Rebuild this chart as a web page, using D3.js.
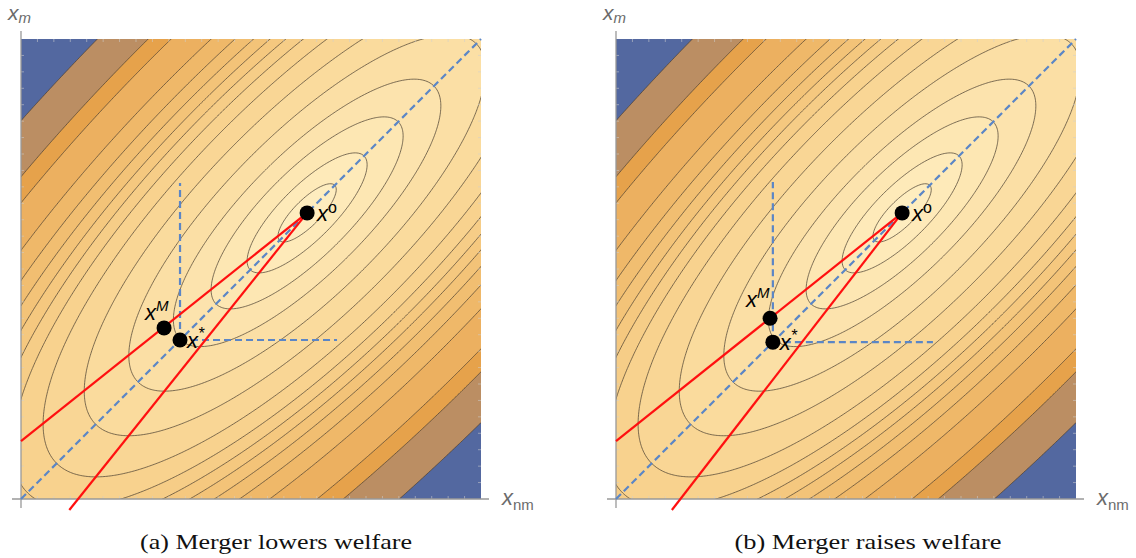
<!DOCTYPE html>
<html><head><meta charset="utf-8">
<script src="https://cdn.jsdelivr.net/npm/d3@7"></script>
<style>body{margin:0;background:#fff} svg{display:block}</style>
</head><body><svg id="chart" width="1136" height="558"></svg>
<script>
// ---------- data ----------
const panelIds = ["a", "b"];
const captions = ["(a) Merger lowers welfare", "(b) Merger raises welfare"];
// contour levels, as elliptical "distance" from the welfare optimum (inner -> outer)
const contourLevels = [0.085, 0.175, 0.28, 0.39, 0.52, 0.65, 0.77, 0.86, 0.93, 0.995, 1.065, 1.145, 1.25, 1.43, 1.535, 1.77];
// band colours, lowest welfare (outermost) -> highest welfare (innermost)
const bandColors = ["#5368A0", "#BB8E63", "#E6A24B", "#ECB060", "#EFB869", "#F1BE71", "#F3C378", "#F5C87F",
  "#F6CD87", "#F8D28E", "#F9D695", "#FADB9D", "#FBDFA5", "#FCE3AD", "#FDE7B3", "#FEEAB9", "#FEEDBF"];
const welfareCenter = [0.622, 0.622];
const axisRatio = 3;             // major / minor axis of the welfare ellipses
const optimumPts = [[0.622, 0.622], [0.622, 0.622]];   // x°
const mergerPts = [[0.311, 0.372], [0.335, 0.393]];    // x^M
const starPts = [[0.3457, 0.3457], [0.341, 0.341]];    // x*
const guideEnds = [0.687, 0.689];                      // dashed guides from x*
const redUpperEnds = [[0, 0.126], [0, 0.126]];
const redLowerEnds = [[0.105, -0.024], [0.1215, -0.024]];
const frameTicks = d3.range(1, 28).map(k => k / 28);

// ---------- layout ----------
const panelLeft = [21, 616], panelTop = 39, size = 460;
const svg = d3.select("#chart");
const defs = svg.append("defs");

function welfare(u, v) {
  const du = u - welfareCenter[0], dv = v - welfareCenter[1];
  const s = (du + dv) / Math.SQRT2, t = (du - dv) / Math.SQRT2;
  return -Math.sqrt(s * s + axisRatio * axisRatio * t * t);
}

const g0 = -0.03, g1 = 1.03, n = 320, step = (g1 - g0) / n;
const values = new Array(n * n);
for (let j = 0; j < n; j++) for (let i = 0; i < n; i++)
  values[i + j * n] = welfare(g0 + (i + 0.5) * step, g0 + (j + 0.5) * step);
const thresholds = contourLevels.map(r => -r).sort((a, b) => a - b);
const contours = d3.contours().size([n, n]).thresholds(thresholds)(values);

panelIds.forEach((id, p) => {
  const x = d3.scaleLinear().domain([0, 1]).range([panelLeft[p], panelLeft[p] + size]);
  const y = d3.scaleLinear().domain([0, 1]).range([panelTop + size, panelTop]);
  const proj = d3.geoTransform({ point: function (gx, gy) {
    this.stream.point(x(g0 + gx * step), y(g0 + gy * step));
  }});
  const path = d3.geoPath(proj);
  const g = svg.append("g");
  defs.append("clipPath").attr("id", "clip" + id).append("rect")
    .attr("x", x(0)).attr("y", y(1)).attr("width", size).attr("height", size);
  const plot = g.append("g").attr("clip-path", `url(#clip${id})`);
  plot.append("rect").attr("x", x(0)).attr("y", y(1)).attr("width", size).attr("height", size).attr("fill", bandColors[0]);
  plot.selectAll("path.band").data(contours).join("path").attr("class", "band")
    .attr("d", path).attr("fill", (d, i) => bandColors[i + 1]);
  plot.selectAll("path.iso").data(contours).join("path").attr("class", "iso")
    .attr("d", path).attr("fill", "none").attr("stroke", "#4a3f30").attr("stroke-opacity", 0.72).attr("stroke-width", 1);

  // faint frame ticks
  const tk = g.append("g").attr("stroke", "#cfcfcf").attr("stroke-opacity", 0.55).attr("stroke-width", 1);
  frameTicks.forEach(v => {
    tk.append("line").attr("x1", x(v)).attr("x2", x(v)).attr("y1", y(1)).attr("y2", y(1) + 3);
    tk.append("line").attr("x1", x(v)).attr("x2", x(v)).attr("y1", y(0)).attr("y2", y(0) - 3);
    tk.append("line").attr("y1", y(v)).attr("y2", y(v)).attr("x1", x(0)).attr("x2", x(0) + 3);
    tk.append("line").attr("y1", y(v)).attr("y2", y(v)).attr("x1", x(1)).attr("x2", x(1) - 3);
  });

  // axes
  g.append("line").attr("x1", x(0) - 9).attr("x2", x(1) + 8).attr("y1", y(0)).attr("y2", y(0))
    .attr("stroke", "#999").attr("stroke-width", 1.3);
  g.append("line").attr("x1", x(0)).attr("x2", x(0)).attr("y1", y(1) - 8).attr("y2", y(0) + 9)
    .attr("stroke", "#999").attr("stroke-width", 1.3);

  // dashed guides
  const dash = g.append("g").attr("fill", "none").attr("stroke", "#5B86C6").attr("stroke-width", 2.2).attr("stroke-dasharray", "7,4");
  dash.append("line").attr("x1", x(0)).attr("y1", y(0)).attr("x2", x(1)).attr("y2", y(1));
  const sp = starPts[p];
  dash.append("line").attr("x1", x(sp[0])).attr("y1", y(sp[1])).attr("x2", x(sp[0])).attr("y2", y(guideEnds[p]));
  dash.append("line").attr("x1", x(sp[0])).attr("y1", y(sp[1])).attr("x2", x(guideEnds[p])).attr("y2", y(sp[1]));

  // red lines
  const op = optimumPts[p];
  const red = g.append("g").attr("stroke", "#FF1010").attr("stroke-width", 2.2);
  [redUpperEnds[p], redLowerEnds[p]].forEach(e => {
    red.append("line").attr("x1", x(op[0])).attr("y1", y(op[1])).attr("x2", x(e[0])).attr("y2", y(e[1]));
  });

  // points
  [optimumPts[p], mergerPts[p], starPts[p]].forEach(pt => {
    g.append("circle").attr("cx", x(pt[0])).attr("cy", y(pt[1])).attr("r", 7.5).attr("fill", "#000");
  });

  // point labels
  function ptLabel(px, py, sup, supSize, supDy) {
    const t = g.append("text").attr("x", px).attr("y", py)
      .attr("font-family", "Liberation Sans, Arial, sans-serif").attr("font-size", 22).attr("font-style", "italic").attr("fill", "#000");
    t.append("tspan").text("x");
    t.append("tspan").attr("font-size", supSize).attr("dy", supDy).attr("font-style", sup === "o" ? "normal" : "italic").text(sup);
  }
  ptLabel(x(op[0]) + 10, y(op[1]) + 8, "o", 16, -8);
  const mp = mergerPts[p];
  ptLabel(x(mp[0]) - (p === 0 ? 19 : 24), y(mp[1]) - (p === 0 ? 8 : 11), "M", 15, -9);
  ptLabel(x(sp[0]) + 7, y(sp[1]) + 8, "*", 16, -9);

  // axis labels
  const ax = g.append("g").attr("font-family", "Liberation Sans, Arial, sans-serif").attr("fill", "#6b6b6b");
  const ym = ax.append("text").attr("x", x(0) - 13).attr("y", y(1) - 19).attr("font-size", 21).attr("font-style", "italic");
  ym.append("tspan").text("x");
  ym.append("tspan").attr("font-size", 15).attr("dy", 3).text("m");
  const xnm = ax.append("text").attr("x", x(1) + 21).attr("y", y(0) + 6).attr("font-size", 22).attr("font-style", "italic");
  xnm.append("tspan").text("x");
  xnm.append("tspan").attr("font-size", 15).attr("dy", 5).attr("font-style", "normal").text("nm");

  // caption
  svg.append("text").attr("x", [276, 868][p]).attr("y", 549).attr("text-anchor", "middle")
    .attr("font-family", "Liberation Serif, 'DejaVu Serif', serif").attr("font-size", 22).attr("fill", "#111")
    .attr("textLength", [272, 267][p]).attr("lengthAdjust", "spacingAndGlyphs").text(captions[p]);
});
</script></body></html>
